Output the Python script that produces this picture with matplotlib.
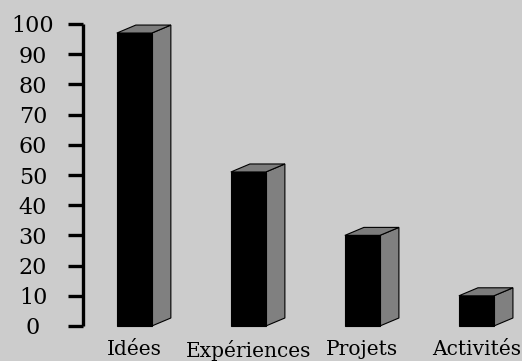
import matplotlib.pyplot as plt
from matplotlib.patches import Polygon

categories = ["Idées", "Expériences", "Projets", "Activités"]
values = [97, 51, 30, 10]
yticks = [0, 10, 20, 30, 40, 50, 60, 70, 80, 90, 100]

bg = "#cccccc"
side_col = "#808080"
top_col = "#7c7c7c"

fig = plt.figure(figsize=(5.22, 3.61), dpi=100, facecolor=bg)
# axes placed so that 0 sits at y=326px and 100 at y=24px
ax = fig.add_axes([83 / 522, (361 - 326) / 361, (522 - 83) / 522, (326 - 24) / 361])
ax.set_facecolor(bg)
ax.set_xlim(-0.45, 3.40)
ax.set_ylim(0, 100)

w = 0.307   # front face width
dx = 0.167  # depth offset (x)
dy = 2.65   # depth offset (y)

for i, v in enumerate(values):
    x0 = i - w / 2
    x1 = i + w / 2
    front = Polygon([(x0, 0), (x1, 0), (x1, v), (x0, v)], closed=True,
                    facecolor="black", edgecolor="black", lw=0.8, clip_on=False)
    side = Polygon([(x1, 0), (x1 + dx, dy), (x1 + dx, v + dy), (x1, v)], closed=True,
                   facecolor=side_col, edgecolor="black", lw=0.8, clip_on=False)
    top = Polygon([(x0, v), (x0 + dx, v + dy), (x1 + dx, v + dy), (x1, v)], closed=True,
                  facecolor=top_col, edgecolor="black", lw=0.8, clip_on=False)
    ax.add_patch(side)
    ax.add_patch(top)
    ax.add_patch(front)

for s in ["top", "right", "bottom"]:
    ax.spines[s].set_visible(False)
ax.spines["left"].set_linewidth(2.4)
ax.spines["left"].set_capstyle("butt")

ax.set_yticks(yticks)
ax.set_yticklabels([str(t) for t in yticks], fontfamily="DejaVu Serif", fontsize=16)
ax.tick_params(axis="y", length=11, width=2.4, pad=25)
for lab in ax.get_yticklabels():
    lab.set_horizontalalignment("center")

ax.set_xticks(range(len(categories)))
ax.set_xticklabels(categories, fontfamily="DejaVu Serif", fontsize=14.5)
ax.tick_params(axis="x", length=0, pad=10)

fig.savefig("out.png", dpi=100, facecolor=bg)
